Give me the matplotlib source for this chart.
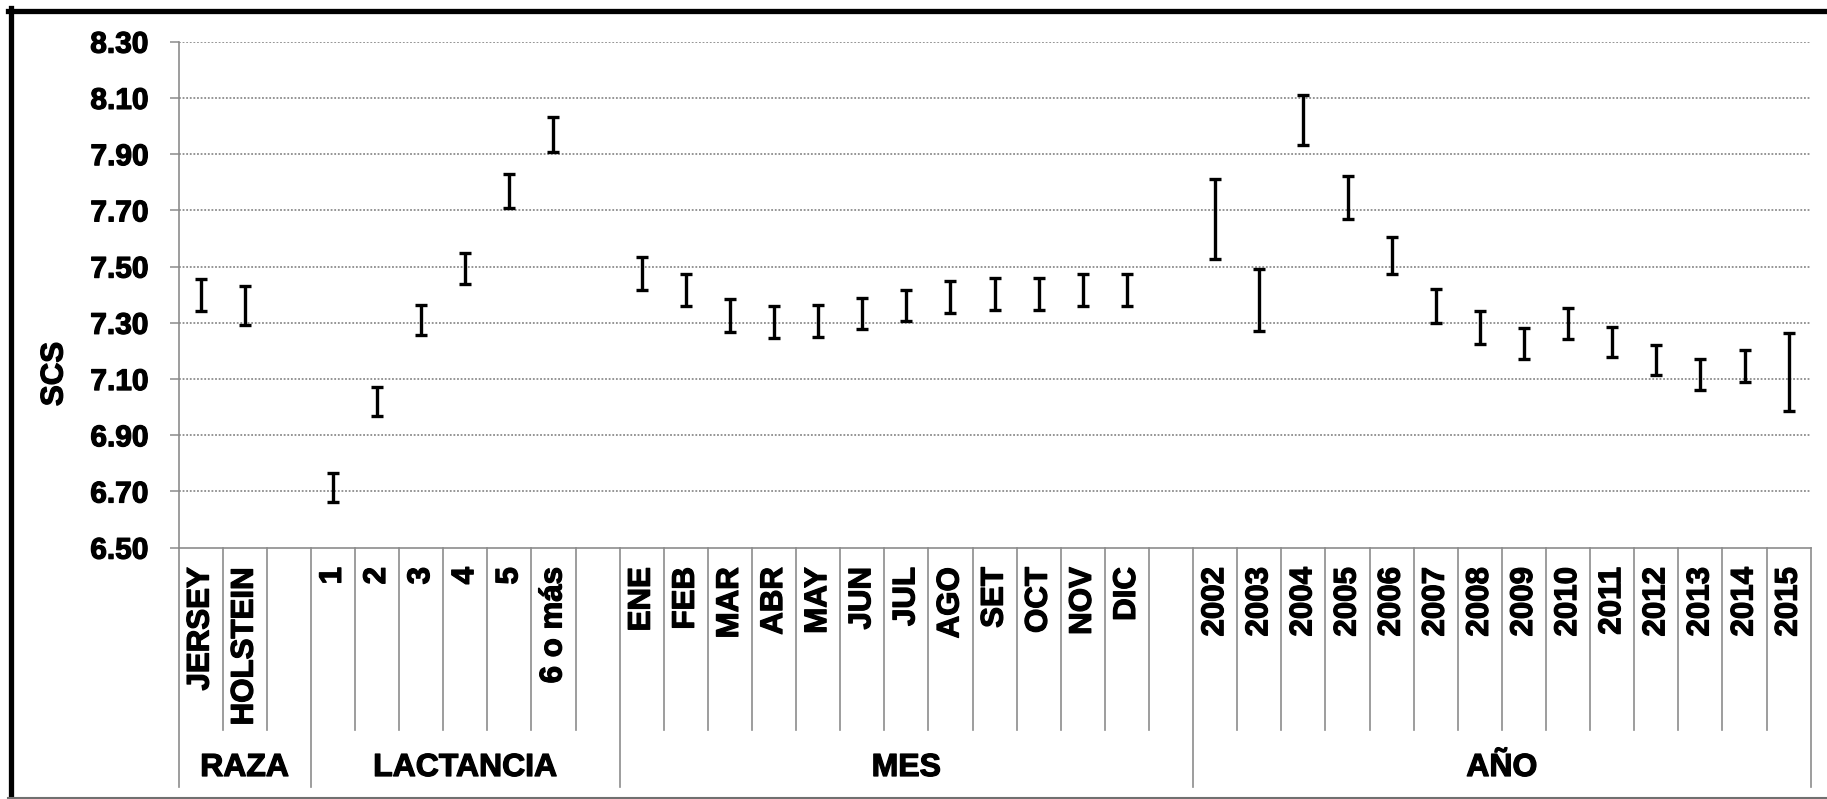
import matplotlib
matplotlib.use("Agg")
import matplotlib.pyplot as plt
import matplotlib.patheffects as pe
from matplotlib.lines import Line2D
from matplotlib.transforms import blended_transform_factory

plt.rcParams['font.family'] = ['Liberation Sans', 'DejaVu Sans']
plt.rcParams['font.weight'] = 'bold'

# SCS ranges (lower / upper limit) by factor
group_names = ['RAZA', 'LACTANCIA', 'MES', 'AÑO']

raza_labels = ['JERSEY', 'HOLSTEIN']
raza_lo = [7.341, 7.291]
raza_hi = [7.456, 7.430]

lact_labels = ['1', '2', '3', '4', '5', '6 o más']
lact_lo = [6.663, 6.968, 7.258, 7.437, 7.710, 7.906]
lact_hi = [6.767, 7.070, 7.365, 7.547, 7.828, 8.033]

mes_labels = ['ENE', 'FEB', 'MAR', 'ABR', 'MAY', 'JUN',
              'JUL', 'AGO', 'SET', 'OCT', 'NOV', 'DIC']
mes_lo = [7.418, 7.360, 7.268, 7.245, 7.250, 7.277,
          7.305, 7.334, 7.347, 7.347, 7.361, 7.361]
mes_hi = [7.533, 7.473, 7.383, 7.359, 7.364, 7.390,
          7.418, 7.449, 7.459, 7.459, 7.473, 7.473]

anio_labels = ['2002', '2003', '2004', '2005', '2006', '2007', '2008',
               '2009', '2010', '2011', '2012', '2013', '2014', '2015']
anio_lo = [7.528, 7.271, 7.932, 7.669, 7.473, 7.300, 7.224,
           7.170, 7.244, 7.178, 7.113, 7.061, 7.090, 6.986]
anio_hi = [7.813, 7.493, 8.112, 7.824, 7.604, 7.422, 7.341,
           7.282, 7.353, 7.286, 7.220, 7.170, 7.205, 7.263]

yticks = [6.50, 6.70, 6.90, 7.10, 7.30, 7.50, 7.70, 7.90, 8.10, 8.30]

groups = [
    (raza_labels, raza_lo, raza_hi),
    (lact_labels, lact_lo, lact_hi),
    (mes_labels, mes_lo, mes_hi),
    (anio_labels, anio_lo, anio_hi),
]

W, H = 1827, 799
fig = plt.figure(figsize=(W / 100, H / 100), dpi=100)
ax = fig.add_axes([178.5 / W, 1 - 547.7 / H, (1810.7 - 178.5) / W, (547.7 - 41.7) / H])

GRAY = '#8c8c8c'
FS = 22.5
# slightly heavier strokes on all text
heavy = [pe.withStroke(linewidth=0.9, foreground='black')]

# lay out slots: every group but the last gets an empty slot after it
xs, labels, lo, hi, spans = [], [], [], [], []
pos = 0
for gi, (lab, l, h) in enumerate(groups):
    start = pos
    for j in range(len(lab)):
        xs.append(pos)
        labels.append(lab[j])
        lo.append(l[j])
        hi.append(h[j])
        pos += 1
    if gi < len(groups) - 1:
        pos += 1
    spans.append((start, pos))
nslots = pos

mid = [(a + b) / 2 for a, b in zip(lo, hi)]
half = [(b - a) / 2 for a, b in zip(lo, hi)]
ax.errorbar(xs, mid, yerr=half, fmt='none', ecolor='black',
            elinewidth=2.4, capsize=4.4, capthick=2.4, zorder=3)

ax.set_xlim(-0.5, nslots - 0.5)
ax.set_ylim(6.50, 8.30)
ax.set_yticks(yticks)
ax.set_yticklabels([f'{v:.2f}' for v in yticks], fontsize=21.5, fontweight='bold')
for t in ax.get_yticklabels():
    t.set_path_effects(heavy)
ax.set_xticks([])
ax.tick_params(axis='y', length=6.5, width=1.1, color=GRAY, pad=15)

for s in ['top', 'right']:
    ax.spines[s].set_visible(False)
for s in ['left', 'bottom']:
    ax.spines[s].set_color(GRAY)
    ax.spines[s].set_linewidth(1.2)

for v in yticks[1:]:
    ax.axhline(v, color=GRAY, lw=1.3, ls=(0, (1, 1)), zorder=1)

# category axis: labels and separators below the plot
tr = blended_transform_factory(ax.transData, fig.transFigure)


def fy(px):
    return 1 - px / H


for x, lab in zip(xs, labels):
    ax.text(x, fy(567), lab, transform=tr, rotation=90, ha='center', va='top',
            fontsize=FS, fontweight='bold', clip_on=False, path_effects=heavy)

group_edges = {-0.5}
for a, b in spans:
    group_edges.add(a - 0.5)
    group_edges.add(b - 0.5)

for k in range(nslots + 1):
    xb = k - 0.5
    bottom = 787 if xb in group_edges else 730
    ax.add_line(Line2D([xb, xb], [fy(547.7), fy(bottom)], transform=tr,
                       color=GRAY, lw=1.2, clip_on=False))

for name, (a, b) in zip(group_names, spans):
    ax.text((a + b - 1) / 2, fy(768), name, transform=tr, ha='center', va='center',
            fontsize=23, fontweight='bold', clip_on=False, path_effects=heavy)

fig.text(54.5 / W, fy(374), 'SCS', rotation=90, ha='center', va='center',
         fontsize=FS, fontweight='bold', path_effects=heavy)

# frame around the chart area
fig.add_artist(Line2D([10.5 / W, 10.5 / W], [fy(8), 0], transform=fig.transFigure,
                      color='black', lw=3.8))
fig.add_artist(Line2D([8 / W, 1], [fy(10.5), fy(10.5)], transform=fig.transFigure,
                      color='black', lw=3.8))
fig.add_artist(Line2D([8 / W, 1], [fy(797.5), fy(797.5)], transform=fig.transFigure,
                      color='#707070', lw=1.5))

fig.savefig('out.png', dpi=100)
